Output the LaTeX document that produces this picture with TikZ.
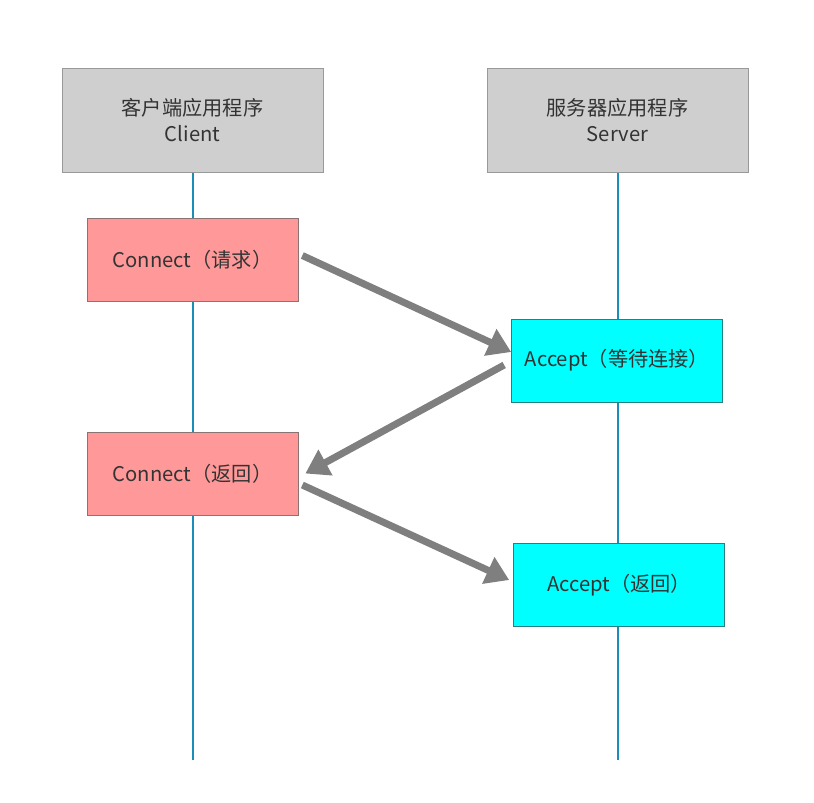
\documentclass[tikz,border=0pt]{standalone}
\usepackage{fontspec}
\setmainfont{Noto Sans CJK SC}
\usetikzlibrary{arrows.meta}
\definecolor{headgray}{HTML}{CFCFCF}
\definecolor{boxpink}{HTML}{FF9999}
\definecolor{boxcyan}{HTML}{00FFFF}
\definecolor{lifeblue}{HTML}{1A8DB8}
\definecolor{arrowgray}{HTML}{7F7F7F}
\definecolor{textgray}{HTML}{333333}
\begin{document}
\begin{tikzpicture}[x=0.02cm,y=-0.02cm,
  head/.style={draw=gray!80,fill=headgray,minimum width=5.22cm,minimum height=2.08cm,align=center,text=textgray,font=\fontsize{11.5pt}{15pt}\selectfont},
  call/.style={draw=gray!90!red,fill=boxpink,minimum width=4.22cm,minimum height=1.66cm,text=textgray,font=\fontsize{11.5pt}{14pt}\selectfont},
  answer/.style={draw=teal!70!gray,fill=boxcyan,minimum width=4.22cm,minimum height=1.66cm,text=textgray,font=\fontsize{11.5pt}{14pt}\selectfont},
  life/.style={lifeblue,line width=1.4pt},
  msg/.style={arrowgray,line width=4pt,-{Triangle[length=0.46cm,width=0.56cm]}}]
\useasboundingbox (0,0) rectangle (814,802);
% lifelines
\coordinate (clend) at (193,760);
\coordinate (svend) at (618,760);
\draw[life] (193,172)--(clend);
\draw[life] (618,172)--(svend);
% boxes
\node[head] (cl) at (192.5,120) {客户端应用程序\\Client};
\node[head] (sv) at (617.5,120) {服务器应用程序\\Server};
\node[call] (cq) at (192.5,259.5) {Connect（请求）};
\node[answer] (aw) at (617,360.5) {Accept（等待连接）};
\node[call] (cr) at (192.5,473.5) {Connect（返回）};
\node[answer] (ar) at (619,585) {Accept（返回）};
% messages
\draw[msg] ([shift={(0.08cm,0.08cm)}]cq.east)--([yshift=0.17cm]aw.west);
\draw[msg] ([shift={(-0.14cm,-0.09cm)}]aw.west)--([xshift=0.14cm]cr.east);
\draw[msg] ([shift={(0.08cm,-0.23cm)}]cr.east)--([shift={(-0.08cm,0.1cm)}]ar.west);
\end{tikzpicture}
\end{document}
